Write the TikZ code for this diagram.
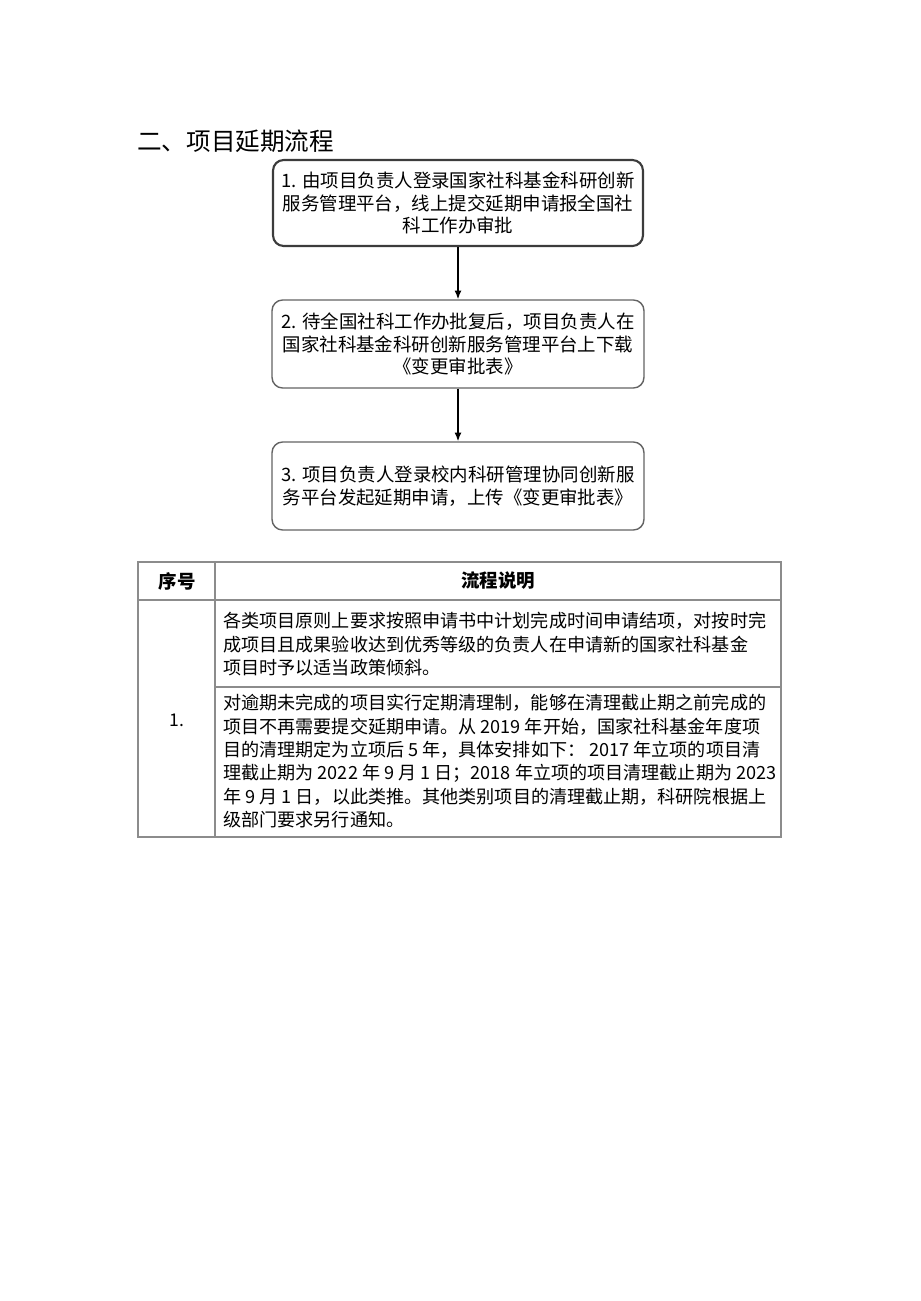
\documentclass[tikz,border=0pt]{standalone}
\usepackage{fontspec}
\setmainfont{Noto Sans CJK SC}
\usetikzlibrary{arrows.meta,positioning}
\definecolor{boxc}{RGB}{60,60,60}
\definecolor{gridc}{RGB}{140,140,140}

\begin{document}
\begin{tikzpicture}[x=0.02cm, y=-0.02cm,
  stepbox/.style={draw=boxc!80, rounded corners=6pt, align=center, line width=0.8pt,
                  minimum width=7.44cm, minimum height=1.76cm, inner sep=2pt,
                  font=\fontsize{10.5}{12.8}\selectfont},
  cell/.style={anchor=north west, align=left, inner sep=0pt,
               font=\fontsize{10.3}{13.3}\selectfont},
  head/.style={font=\fontsize{10.5}{12}\selectfont\bfseries},
  flow/.style={-{Latex[length=5pt,width=4pt]}, thick, black},
  grid/.style={draw=gridc, line width=1pt},
]
\useasboundingbox (0,0) rectangle (920,1301);

% title
\node[anchor=west, font=\fontsize{14}{16}\selectfont, inner sep=0pt] (title) at (137,141)
  {二、项目延期流程};

% flow boxes
\node[stepbox, draw=boxc, line width=1.2pt, minimum width=7.4cm, minimum height=1.72cm] (b1) at (458,203)
  {1. 由项目负责人登录国家社科基金科研创新\\服务管理平台，线上提交延期申请报全国社\\科工作办审批};
\node[stepbox] (b2) at (458,344)
  {2. 待全国社科工作办批复后，项目负责人在\\国家社科基金科研创新服务管理平台上下载\\《变更审批表》};
\node[stepbox] (b3) at (458,486)
  {3. 项目负责人登录校内科研管理协同创新服\\务平台发起延期申请，上传《变更审批表》};
\draw[flow] (b1.south) -- (b2.north);
\draw[flow] (b2.south) -- (b3.north);

% table
\draw[grid] (138,562) rectangle (781,837);
\draw[grid] (138,600) -- (781,600);
\draw[grid] (215,562) -- (215,837);
\draw[grid, line width=1.6pt] (215,687) -- (781,687);

\node[head] (h1) at (177,581) {序号};
\node[head] (h2) at (498,581) {流程说明};
\node[font=\fontsize{10}{12}\selectfont] (n1) at (177,720) {1.};

\node[cell] (c1) at (223,612)
  {各类项目原则上要求按照申请书中计划完成时间申请结项，对按时完\\
   成项目且成果验收达到优秀等级的负责人在申请新的国家社科基金\\
   项目时予以适当政策倾斜。};
\node[cell] (c2) at (223,694)
  {对逾期未完成的项目实行定期清理制，能够在清理截止期之前完成的\\
   项目不再需要提交延期申请。从 2019 年开始，国家社科基金年度项\\
   目的清理期定为立项后 5 年，具体安排如下： 2017 年立项的项目清\\
   理截止期为 2022 年 9 月 1 日；2018 年立项的项目清理截止期为 2023\\
   年 9 月 1 日，以此类推。其他类别项目的清理截止期，科研院根据上\\
   级部门要求另行通知。};

\end{tikzpicture}
\end{document}
